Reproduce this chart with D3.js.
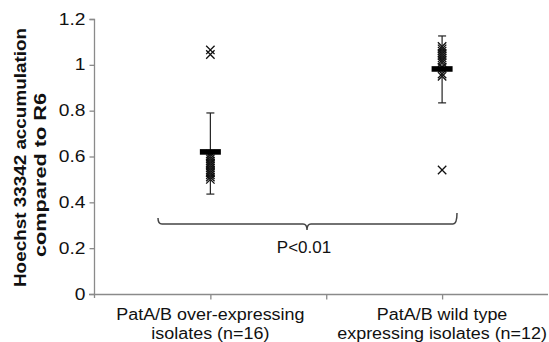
<!DOCTYPE html>
<html><head><meta charset="utf-8">
<script src="https://cdn.jsdelivr.net/npm/d3@7/dist/d3.min.js"></script>
<style>body{margin:0;background:#fff}svg{display:block}text{font-family:"Liberation Sans",Arial,sans-serif}</style>
</head><body><svg id="c" width="549" height="342"></svg>
<script>
const categories = ["PatA/B over-expressing|isolates (n=16)", "PatA/B wild type|expressing isolates (n=12)"];
const categoryPos = [1, 2];
const group1Values = [1.065, 1.045, 0.61, 0.60, 0.59, 0.58, 0.57, 0.57, 0.56, 0.55, 0.54, 0.53, 0.53, 0.52, 0.51, 0.50];
const group2Values = [1.08, 1.07, 1.06, 1.05, 1.04, 1.03, 1.02, 1.01, 0.99, 0.96, 0.95, 0.541];
const means = [0.62, 0.982];
const errLow = [0.436, 0.834];
const errHigh = [0.79, 1.126];
const yTicks = [0, 0.2, 0.4, 0.6, 0.8, 1, 1.2];
const xTicks = [1, 1.5, 2];
const yTitle = ["Hoechst 33342 accumulation", "compared to R6"];
const pLabel = "P<0.01";

const svg = d3.select("#c");
const x = d3.scaleLinear().domain([0.5, 2.457]).range([94.5, 548]);
const y = d3.scaleLinear().domain([0, 1.2]).range([294, 19]);

function stretch(sel, k) {
  sel.each(function () {
    const L = this.getComputedTextLength();
    d3.select(this).attr("textLength", L * k).attr("lengthAdjust", "spacingAndGlyphs");
  });
}

// axes
const yAx = svg.append("g").attr("transform", "translate(94.5,0)")
  .call(d3.axisLeft(y).tickValues(yTicks).tickSize(5).tickPadding(4).tickFormat(d => d3.format("")(d)));
yAx.selectAll("path,line").attr("stroke", "#8a8a8a").attr("stroke-width", 1.3);
yAx.select(".domain").attr("d", "M-5,19.5H0V298");
yAx.selectAll("text").attr("font-size", 16).attr("fill", "#111").attr("font-family", "Liberation Sans, Arial, sans-serif");
stretch(yAx.selectAll("text"), 1.2);

const xAx = svg.append("g").attr("transform", "translate(0,294.5)")
  .call(d3.axisBottom(x).tickValues(xTicks).tickSize(5).tickFormat(""));
xAx.selectAll("path,line").attr("stroke", "#8a8a8a").attr("stroke-width", 1.3);
xAx.select(".domain").attr("d", "M89,0H548");

// category labels
categories.forEach((c, i) => {
  const lines = c.split("|");
  lines.forEach((l, j) => {
    const t = svg.append("text").attr("x", x(categoryPos[i])).attr("y", 320 + j * 18.5)
      .attr("text-anchor", "middle").attr("font-size", 16).attr("fill", "#111").text(l);
    stretch(t, 1.12);
  });
});

// y title
const titleLen = [259, 164];
yTitle.forEach((l, i) => {
  svg.append("text").attr("transform", `translate(${26 + i * 19.5},${[157.5, 175][i]}) rotate(-90)`)
    .attr("text-anchor", "middle").attr("font-size", 17).attr("font-weight", "bold").attr("fill", "#111")
    .attr("textLength", titleLen[i]).attr("lengthAdjust", "spacingAndGlyphs").text(l);
});

// crosses
const cross = (g, cx, cy) => {
  const s = 4.2;
  g.append("path").attr("d", `M${cx - s},${cy - s}L${cx + s},${cy + s}M${cx - s},${cy + s}L${cx + s},${cy - s}`)
    .attr("stroke", "#111").attr("stroke-width", 1.3).attr("fill", "none");
};
const pts = svg.append("g");
[group1Values, group2Values].forEach((vals, i) => vals.forEach(v => cross(pts, x(categoryPos[i]), y(v))));

// error bars & means
categoryPos.forEach((p, i) => {
  const cx = x(p);
  svg.append("line").attr("x1", cx).attr("x2", cx).attr("y1", y(errLow[i])).attr("y2", y(errHigh[i])).attr("stroke", "#222").attr("stroke-width", 1.2);
  [errLow[i], errHigh[i]].forEach(v => svg.append("line").attr("x1", cx - 4).attr("x2", cx + 4).attr("y1", y(v)).attr("y2", y(v)).attr("stroke", "#222").attr("stroke-width", 1.2));
  svg.append("rect").attr("x", cx - 10.5).attr("y", y(means[i]) - 2.8).attr("width", 21).attr("height", 5.6).attr("fill", "#000");
});

// bracket
svg.append("path").attr("d", "M158,218 Q158,224 162,224 H303 Q307,224 307,230 Q307,224 311,224 H453 Q457,224 457,213")
  .attr("fill", "none").attr("stroke", "#444").attr("stroke-width", 1.5);
svg.append("text").attr("x", 304).attr("y", 253).attr("text-anchor", "middle").attr("font-size", 17).attr("fill", "#111").text(pLabel);
</script></body></html>
